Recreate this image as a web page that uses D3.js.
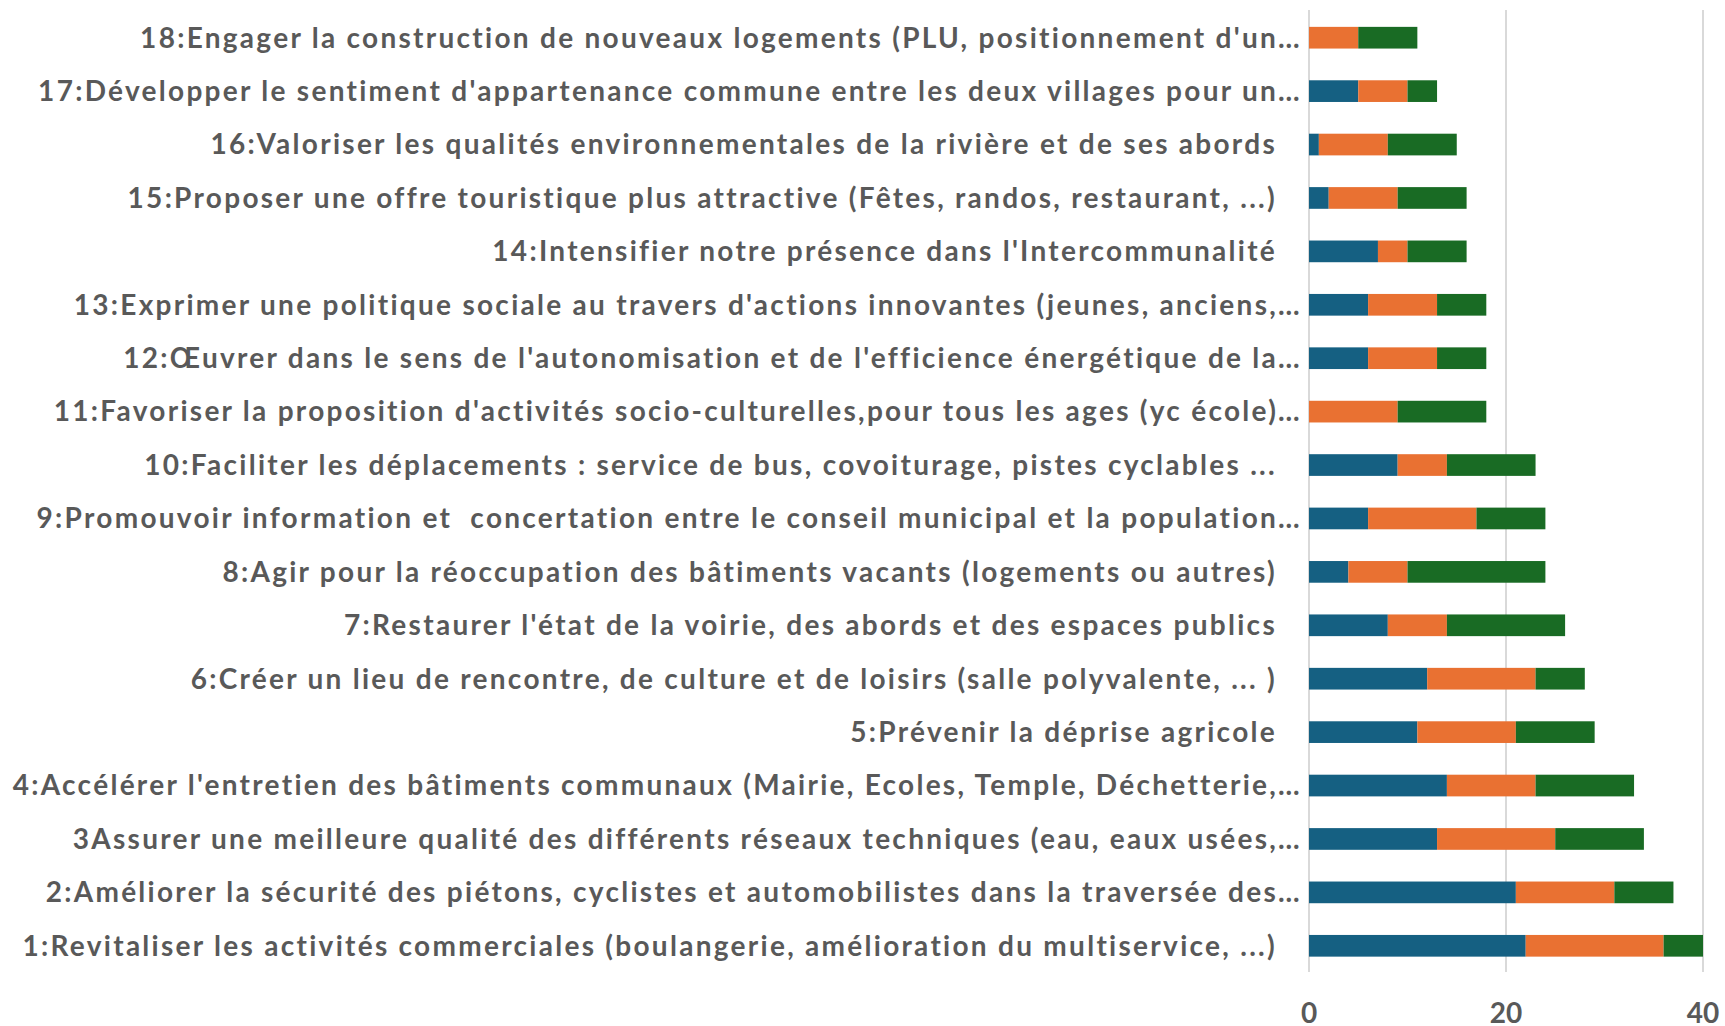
<!DOCTYPE html>
<html>
<head>
<meta charset="utf-8">
<script src="https://cdn.jsdelivr.net/npm/d3@7"></script>
<style>
  html, body { margin: 0; padding: 0; background: #ffffff; }
  svg { display: block; }
  text { font-family: Lato, "Noto Sans", "DejaVu Sans", sans-serif; font-weight: 700; fill: #595959; }
</style>
</head>
<body>
<svg id="chart" width="1725" height="1026"></svg>
<script>
// ---- data ----
const categories = [
  "1:Revitaliser les activités commerciales (boulangerie, amélioration du multiservice, ...)",
  "2:Améliorer la sécurité des piétons, cyclistes et automobilistes dans la traversée des…",
  "3Assurer une meilleure qualité des différents réseaux techniques (eau, eaux usées,…",
  "4:Accélérer l'entretien des bâtiments communaux (Mairie, Ecoles, Temple, Déchetterie,…",
  "5:Prévenir la déprise agricole",
  "6:Créer un lieu de rencontre, de culture et de loisirs (salle polyvalente, ... )",
  "7:Restaurer l'état de la voirie, des abords et des espaces publics",
  "8:Agir pour la réoccupation des bâtiments vacants (logements ou autres)",
  "9:Promouvoir information et  concertation entre le conseil municipal et la population…",
  "10:Faciliter les déplacements : service de bus, covoiturage, pistes cyclables ...",
  "11:Favoriser la proposition d'activités socio-culturelles,pour tous les ages (yc école)…",
  "12:Œuvrer dans le sens de l'autonomisation et de l'efficience énergétique de la…",
  "13:Exprimer une politique sociale au travers d'actions innovantes (jeunes, anciens,…",
  "14:Intensifier notre présence dans l'Intercommunalité",
  "15:Proposer une offre touristique plus attractive (Fêtes, randos, restaurant, ...)",
  "16:Valoriser les qualités environnementales de la rivière et de ses abords",
  "17:Développer le sentiment d'appartenance commune entre les deux villages pour un…",
  "18:Engager la construction de nouveaux logements (PLU, positionnement d'un…"
];
const seriesNames = ["Priorité 1", "Priorité 2", "Priorité 3"];
const priorite1 = [22, 21, 13, 14, 11, 12, 8, 4, 6, 9, 0, 6, 6, 7, 2, 1, 5, 0];
const priorite2 = [14, 10, 12, 9, 10, 11, 6, 6, 11, 5, 9, 7, 7, 3, 7, 7, 5, 5];
const priorite3 = [4, 6, 9, 10, 8, 5, 12, 14, 7, 9, 9, 5, 5, 6, 7, 7, 3, 6];
const xTicks = [0, 20, 40];
const colors = ["#156082", "#E97132", "#196B24"];

// ---- layout ----
const svg = d3.select("#chart");
const axisX = 1309, axisRight = 1703;
const plotTop = 11, plotBottom = 972.5;

const x = d3.scaleLinear().domain([0, 40]).range([axisX, axisRight]);
const y = d3.scaleBand()
  .domain(categories.slice().reverse())
  .range([plotTop, plotBottom])
  .paddingInner(0.594)
  .paddingOuter(0.297);

const rows = categories.map((c, i) => ({
  cat: c,
  "Priorité 1": priorite1[i],
  "Priorité 2": priorite2[i],
  "Priorité 3": priorite3[i]
}));
const stacked = d3.stack().keys(seriesNames)(rows);

// gridlines
svg.append("g").selectAll("line").data(xTicks).join("line")
  .attr("x1", d => x(d)).attr("x2", d => x(d))
  .attr("y1", 10).attr("y2", 972)
  .attr("stroke", "#d9d9d9").attr("stroke-width", 2);

// bars
svg.append("g").selectAll("g").data(stacked).join("g")
  .attr("fill", (d, i) => colors[i])
  .selectAll("rect").data(d => d).join("rect")
  .attr("x", d => x(d[0]))
  .attr("width", d => x(d[1]) - x(d[0]))
  .attr("y", d => y(d.data.cat))
  .attr("height", y.bandwidth());

// x tick labels
svg.append("g").selectAll("text").data(xTicks).join("text")
  .attr("x", d => x(d)).attr("y", 1023)
  .attr("text-anchor", "middle")
  .attr("font-size", 28)
  .text(d => d);

// category labels
const labelG = svg.append("g");
const labels = labelG.selectAll("text").data(categories).join("text")
  .attr("x", d => d.endsWith("…") ? 1302 : 1277)
  .attr("y", d => y(d) + y.bandwidth() / 2)
  .attr("dy", "0.35em")
  .attr("text-anchor", "end")
  .attr("font-size", 28)
  .style("white-space", "pre")
  .text(d => d);

// fit letter spacing so the first label spans the same width as in the reference
const firstNode = labels.filter((d, i) => i === 0).node();
const w0 = firstNode.getComputedTextLength();
const n0 = categories[0].length;
const ls = Math.max(0, Math.min(4, (1256 - w0) / n0));
labels.style("letter-spacing", ls + "px");
</script>
</body>
</html>
